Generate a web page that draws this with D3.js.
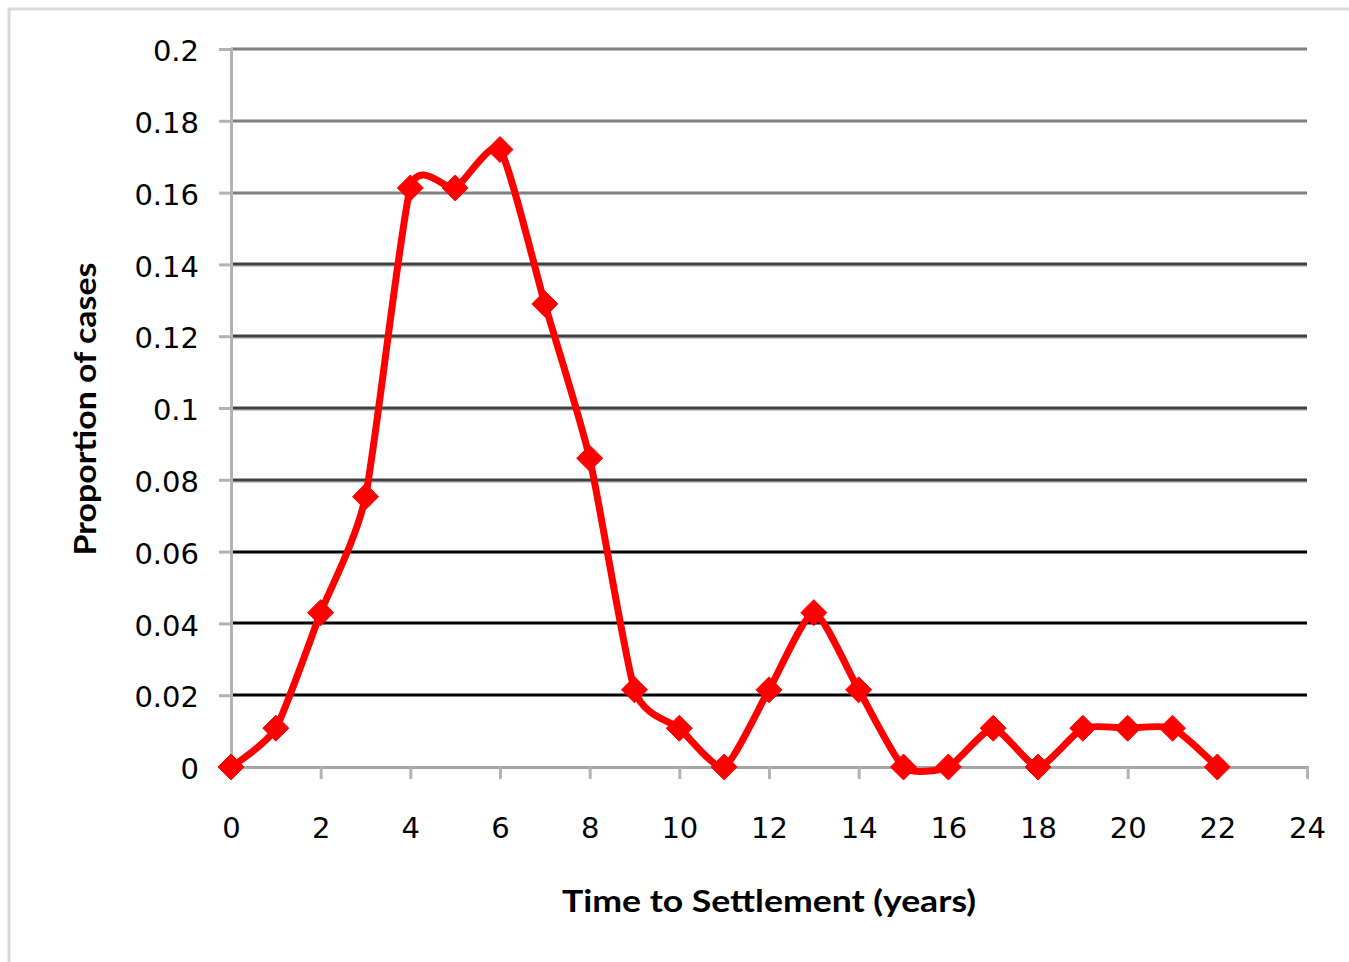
<!DOCTYPE html>
<html>
<head>
<meta charset="utf-8">
<script src="https://cdn.jsdelivr.net/npm/d3@7"></script>
<style>
  html, body { margin: 0; padding: 0; background: #fff; }
  svg { display: block; }
</style>
</head>
<body>
<svg id="chart" width="1349" height="962"></svg>
<script>
// ---- data ----
const years = [0,1,2,3,4,5,6,7,8,9,10,11,12,13,14,15,16,17,18,19,20,21,22];
const proportions = [0, 0.0108, 0.043, 0.0753, 0.1613, 0.1613, 0.172, 0.129, 0.086, 0.0215, 0.0108, 0,
                     0.0215, 0.043, 0.0215, 0, 0, 0.0108, 0, 0.0108, 0.0108, 0.0108, 0];
const xTicks = [0,2,4,6,8,10,12,14,16,18,20,22,24];
const yTicks = [0,0.02,0.04,0.06,0.08,0.1,0.12,0.14,0.16,0.18,0.2];
const yTickLabels = ["0","0.02","0.04","0.06","0.08","0.1","0.12","0.14","0.16","0.18","0.2"];
const xTitle = "Time to Settlement (years)";
const yTitle = "Proportion of cases";

(function () {
// ---- layout ----
const svg = d3.select("#chart");
const pLeft = 231, pRight = 1307, pTop = 49, pBottom = 767;
const x = d3.scaleLinear().domain([0, 24]).range([pLeft, pRight]);
const y = d3.scaleLinear().domain([0, 0.2]).range([pBottom, pTop]);

// outer frame
svg.append("rect").attr("x", 9).attr("y", 9).attr("width", 1345).attr("height", 965)
  .attr("fill", "none").attr("stroke", "#d9d9d9").attr("stroke-width", 3);

// gridlines
function gridColor(v) {
  if (v >= 0.155) return "#808080";
  if (v >= 0.075) return "#404040";
  return "#000000";
}
const grid = svg.append("g");
yTicks.filter(v => v > 0).forEach(v => {
  const yy = Math.round(y(v));
  if (v >= 0.075 && v < 0.155) {
    grid.append("line").attr("x1", pLeft).attr("x2", pRight)
      .attr("y1", yy + 2).attr("y2", yy + 2).attr("stroke", "#bdbdbd").attr("stroke-width", 1.5);
  }
  grid.append("line").attr("x1", pLeft).attr("x2", pRight)
    .attr("y1", yy).attr("y2", yy).attr("stroke", gridColor(v)).attr("stroke-width", 3);
});

// y axis
const yAxis = d3.axisLeft(y).tickValues(yTicks).tickSize(12).tickPadding(20)
  .tickFormat((d, i) => yTickLabels[i]);
const gy = svg.append("g").attr("transform", `translate(${pLeft},0)`).call(yAxis);
gy.select(".domain").attr("stroke", "#b3b3b3").attr("stroke-width", 3);
gy.selectAll(".tick line").attr("stroke", "#b3b3b3").attr("stroke-width", 3);
gy.selectAll(".tick text").attr("font-family", "'DejaVu Sans', sans-serif")
  .attr("font-size", 29).attr("fill", "#000").attr("dy", "0.4em");

// x axis
const xAxis = d3.axisBottom(x).tickValues(xTicks).tickSize(12).tickPadding(38)
  .tickFormat(d3.format("d"));
const gx = svg.append("g").attr("transform", `translate(0,${pBottom})`).call(xAxis);
gx.select(".domain").attr("stroke", "#a6a6a6").attr("stroke-width", 3);
gx.selectAll(".tick line").attr("stroke", "#b3b3b3").attr("stroke-width", 3);
gx.selectAll(".tick text").attr("font-family", "'DejaVu Sans', sans-serif")
  .attr("font-size", 29).attr("fill", "#000");

// axis titles
svg.append("text").attr("x", 769).attr("y", 912).attr("text-anchor", "middle")
  .attr("font-family", "Lato, sans-serif").attr("font-weight", "bold")
  .attr("font-size", 31).attr("fill", "#000").text(xTitle)
  .attr("textLength", 414).attr("lengthAdjust", "spacingAndGlyphs");

svg.append("text").attr("transform", "translate(96,409) rotate(-90)").attr("text-anchor", "middle")
  .attr("font-family", "Lato, sans-serif").attr("font-weight", "bold")
  .attr("font-size", 31).attr("fill", "#000").text(yTitle)
  .attr("textLength", 293).attr("lengthAdjust", "spacingAndGlyphs");

// series line
const pts = years.map((yr, i) => [yr, proportions[i]]);
const line = d3.line().x(d => x(d[0])).y(d => y(d[1])).curve(d3.curveCardinal.tension(0.4));
svg.append("path").datum(pts).attr("d", line)
  .attr("fill", "none").attr("stroke", "#ff0000").attr("stroke-width", 7)
  .attr("stroke-linejoin", "round");

// diamond markers
svg.append("g").selectAll("path").data(pts).join("path")
  .attr("transform", d => `translate(${x(d[0])},${y(d[1])})`)
  .attr("d", "M0,-13L13,0L0,13L-13,0Z")
  .attr("fill", "#ff0000").attr("stroke", "#ff0000").attr("stroke-width", 1);
})();
</script>
</body>
</html>
